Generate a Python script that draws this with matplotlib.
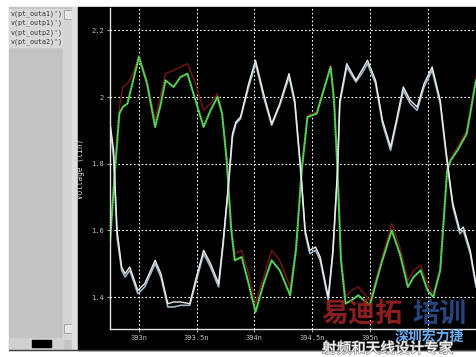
import matplotlib
matplotlib.use("Agg")
import matplotlib.pyplot as plt
import matplotlib.patheffects as pe
from matplotlib.patches import Rectangle

# waveform data (time in ns, voltage in V)
green_t = [392.75, 392.79, 392.83, 392.86, 392.90, 392.95, 393.00, 393.07, 393.14, 393.19,
           393.23, 393.30, 393.36, 393.42, 393.49, 393.56, 393.62, 393.68, 393.72, 393.76,
           393.80, 393.83, 393.89, 393.95, 394.01, 394.08, 394.15, 394.22, 394.31, 394.36,
           394.41, 394.46, 394.54, 394.60, 394.66, 394.69, 394.72, 394.75, 394.79, 394.84,
           394.90, 394.95, 395.00, 395.10, 395.19, 395.26, 395.33, 395.38, 395.44, 395.50,
           395.55, 395.61, 395.67, 395.70, 395.76, 395.84, 395.92]
green_v = [1.57, 1.77, 1.95, 1.97, 1.98, 2.05, 2.12, 2.04, 1.91, 1.98,
           2.05, 2.03, 2.06, 2.07, 1.99, 1.91, 1.96, 2.00, 1.95, 1.81,
           1.60, 1.51, 1.52, 1.44, 1.355, 1.44, 1.51, 1.48, 1.405, 1.54,
           1.78, 1.94, 1.95, 2.02, 2.09, 1.99, 1.78, 1.51, 1.38, 1.39,
           1.405, 1.39, 1.375, 1.50, 1.60, 1.53, 1.43, 1.46, 1.48, 1.42,
           1.40, 1.48, 1.78, 1.81, 1.84, 1.89, 2.05]
red_v = [1.57, 1.78, 1.97, 2.03, 2.04, 2.07, 2.125, 2.05, 1.93, 2.01,
         2.07, 2.08, 2.09, 2.10, 2.04, 1.96, 1.98, 2.01, 1.955, 1.815,
         1.605, 1.53, 1.54, 1.47, 1.38, 1.46, 1.54, 1.51, 1.43, 1.55,
         1.785, 1.945, 1.955, 2.025, 2.095, 1.995, 1.785, 1.52, 1.40, 1.42,
         1.43, 1.41, 1.39, 1.51, 1.62, 1.55, 1.45, 1.48, 1.495, 1.44,
         1.41, 1.485, 1.785, 1.815, 1.85, 1.90, 2.06]

white_t = [392.75, 392.78, 392.81, 392.85, 392.88, 392.92, 392.96, 392.99, 393.05, 393.14,
           393.19, 393.25, 393.30, 393.36, 393.44, 393.49, 393.56, 393.62, 393.69, 393.73,
           393.77, 393.81, 393.84, 393.88, 393.95, 394.01, 394.08, 394.15, 394.22, 394.30,
           394.35, 394.40, 394.44, 394.48, 394.53, 394.57, 394.64, 394.68, 394.72, 394.74,
           394.80, 394.88, 394.93, 394.98, 395.05, 395.11, 395.18, 395.23, 395.29, 395.35,
           395.41, 395.47, 395.54, 395.61, 395.66, 395.70, 395.72, 395.78, 395.81, 395.87,
           395.92]
white_v = [1.92, 1.84, 1.60, 1.49, 1.47, 1.49, 1.45, 1.42, 1.44, 1.51,
           1.47, 1.38, 1.385, 1.385, 1.38, 1.45, 1.54, 1.50, 1.44, 1.57,
           1.72, 1.89, 1.925, 1.94, 2.04, 2.11, 2.01, 1.92, 1.98, 2.07,
           1.99, 1.79, 1.60, 1.54, 1.55, 1.52, 1.40, 1.54, 1.78, 1.99,
           2.10, 2.05, 2.08, 2.11, 2.05, 1.93, 1.85, 1.93, 2.03, 1.99,
           1.97, 2.04, 2.09, 1.99, 1.84, 1.73, 1.68, 1.60, 1.61, 1.54,
           1.44]
gray_v = [1.91, 1.82, 1.58, 1.48, 1.46, 1.48, 1.44, 1.41, 1.43, 1.50,
          1.46, 1.37, 1.37, 1.375, 1.375, 1.44, 1.53, 1.49, 1.43, 1.56,
          1.71, 1.88, 1.92, 1.935, 2.03, 2.10, 2.00, 1.915, 1.975, 2.06,
          1.98, 1.78, 1.59, 1.53, 1.54, 1.51, 1.39, 1.53, 1.77, 1.98,
          2.09, 2.045, 2.07, 2.10, 2.04, 1.92, 1.84, 1.92, 2.02, 1.98,
          1.96, 2.03, 2.08, 1.98, 1.83, 1.72, 1.67, 1.59, 1.60, 1.53,
          1.43]

signal_names = ["v(pt_outa1)')", "v(pt_outp1)')", "v(pt_outp2)')", "v(pt_outa2)')"]
x_ticks = [393.0, 393.5, 394.0, 394.5, 395.0, 395.5]
x_labels = ["393n", "393.5n", "394n", "394.5n", "395n", ""]
y_ticks = [1.4, 1.6, 1.8, 2.0, 2.2]
y_labels = ["1.4", "1.6", "1.8", "2", "2.2"]

W, H = 476, 357
fig = plt.figure(figsize=(W / 100, H / 100), dpi=100, facecolor="white")

# background frame in pixel coordinates (window chrome)
bg = fig.add_axes([0, 0, 1, 1])
bg.set_xlim(0, W)
bg.set_ylim(H, 0)
bg.axis("off")
bg.add_patch(Rectangle((9, 7), 64, 343, color="#c3c3c3"))
bg.add_patch(Rectangle((63, 9), 9, 330, color="#d5d5d5"))
bg.add_patch(Rectangle((64, 10), 8, 9, color="#e6e6e6", ec="#909090", lw=0.5))
bg.add_patch(Rectangle((64, 324), 8, 9, color="#e6e6e6", ec="#909090", lw=0.5))
bg.add_patch(Rectangle((9, 338), 54, 11, color="#d0d0d0"))
bg.add_patch(Rectangle((32, 340), 19, 7, color="black"))
bg.add_patch(Rectangle((72, 7), 6, 343, color="#dedede"))
bg.add_patch(Rectangle((78, 7), 398, 343, color="black"))
bg.plot([9, 476], [350, 350], color="#404040", lw=1)
for i, name in enumerate(signal_names):
    bg.add_patch(Rectangle((9, 9 + 9.5 * i), 53, 9, color="#d9d9d9"))
    bg.text(11, 13.5 + 9.5 * i, name, fontsize=4.8, family="DejaVu Sans Mono",
            color="#303030", va="center")

# plot area
ax = fig.add_axes([110 / W, 1 - 329 / H, 366 / W, 321 / H])
ax.set_facecolor("none")
ax.set_xlim(392.749, 395.92)
ax.set_ylim(1.304, 2.267)

ax.plot(green_t, red_v, color="#6e1616", lw=1.1, solid_joinstyle="round")
ax.plot(green_t, green_v, color="#3cc03c", lw=1.5, solid_joinstyle="round")
ax.plot(green_t, green_v, color="white", lw=0.6, ls=(0, (1, 2)), alpha=0.7)
ax.plot(white_t, gray_v, color="#9db8c2", lw=1.2, solid_joinstyle="round")
ax.plot(white_t, white_v, color="#ececec", lw=1.0, solid_joinstyle="round")

ax.set_xticks(x_ticks)
ax.set_xticklabels(x_labels)
ax.set_yticks(y_ticks)
ax.set_yticklabels(y_labels)
ax.grid(True, color="white", ls=(0, (1.5, 2)), lw=0.8)
ax.tick_params(colors="#c4c4c4", labelsize=5, length=2, width=0.6, pad=2.5)
for s in ["top", "right"]:
    ax.spines[s].set_visible(False)
for s in ["left", "bottom"]:
    ax.spines[s].set_color("#e0e0e0")
    ax.spines[s].set_linewidth(1)
for lbl in ax.get_xticklabels() + ax.get_yticklabels():
    lbl.set_family("DejaVu Sans Mono")
ax.set_ylabel("Voltage (lin)", fontsize=5.5, color="#d0d0d0", family="DejaVu Sans Mono",
              labelpad=4)

# watermark
cjk = ["Noto Sans CJK SC", "DejaVu Sans"]
fig.text(321 / W, 1 - 314 / H, "易迪拓", fontsize=19.5, weight="heavy", color="#9a2222",
         alpha=0.9, family=cjk, va="center")
fig.text(412 / W, 1 - 314 / H, "培训", fontsize=19.5, weight="heavy", color="#2c4c8c",
         alpha=0.9, family=cjk, va="center")
fig.text(395 / W, 1 - 336.5 / H, "深圳宏力捷", fontsize=10, weight="bold", color="#6aaef0",
         family=cjk, va="center")
fig.text(322 / W, 1 - 349 / H, "射频和天线设计专家", fontsize=10.5, color="white",
         family=cjk, va="center",
         path_effects=[pe.withStroke(linewidth=1, foreground="#8a8a8a")])

fig.savefig("out.png", dpi=100, facecolor="white")
